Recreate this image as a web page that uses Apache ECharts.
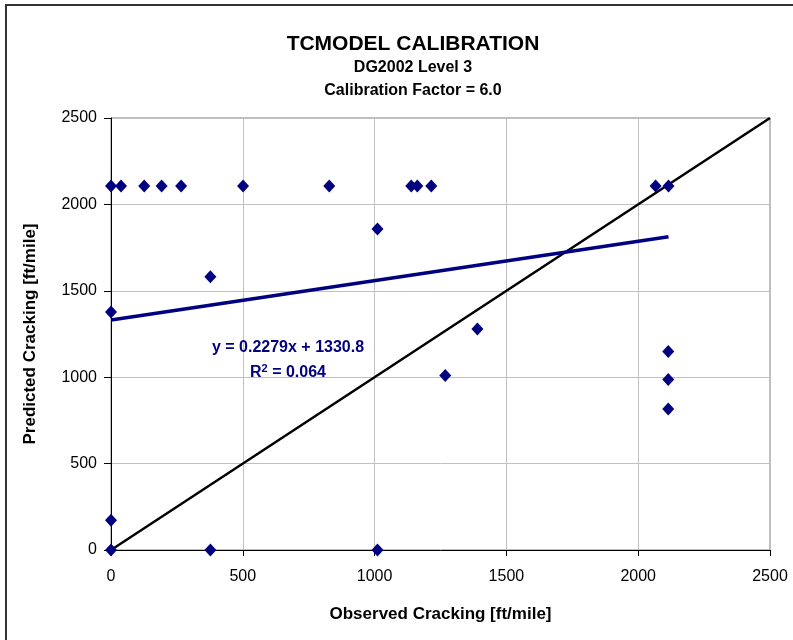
<!DOCTYPE html>
<html><head><meta charset="utf-8">
<script src="https://cdn.jsdelivr.net/npm/echarts@6/dist/echarts.min.js"></script>
<style>html,body{margin:0;padding:0;background:#fff}#c{width:793px;height:640px}</style>
</head><body><div id="c"></div>
<script>
// Observed vs predicted cracking [ft/mile]
const observed  = [0, 38, 126, 192, 266, 501, 828, 1139, 1162, 1215, 2066, 2115, 1011, 377, 0, 0, 0, 377, 1011, 1390, 1268, 2114, 2114, 2114];
const predicted = [2107, 2107, 2107, 2107, 2107, 2107, 2107, 2107, 2107, 2107, 2107, 2107, 1857, 1581, 1377, 172, 0, 0, 0, 1279, 1010, 1149, 987, 816];
// Linear trend
const slope = 0.2279, intercept = 1330.8, r2 = 0.064;
// Line of equality
const equality = [[0, 0], [2500, 2500]];
const axisTicks = [0, 500, 1000, 1500, 2000, 2500];

const pts = observed.map((x, i) => [x, predicted[i]]);
const xMin = Math.min(...observed), xMax = Math.max(...observed);
const trend = [[xMin, slope * xMin + intercept], [xMax, slope * xMax + intercept]];

const chart = echarts.init(document.getElementById('c'), null, {renderer: 'canvas'});
const font = '"Liberation Sans", Arial, sans-serif';
chart.setOption({
  animation: false,
  title: [
    {text: 'TCMODEL CALIBRATION', left: 408, top: 29, textAlign: 'center',
     textStyle: {fontFamily: font, fontSize: 21, fontWeight: 'bold', color: '#000'}},
    {text: 'DG2002 Level 3', left: 408, top: 55, textAlign: 'center',
     textStyle: {fontFamily: font, fontSize: 16, fontWeight: 'bold', color: '#000'}},
    {text: 'Calibration Factor = 6.0', left: 408, top: 78, textAlign: 'center',
     textStyle: {fontFamily: font, fontSize: 16, fontWeight: 'bold', color: '#000'}}
  ],
  grid: {left: 111, right: 23, top: 118, bottom: 90, containLabel: false,
         show: true, borderColor: '#808080', borderWidth: 1},
  xAxis: {
    type: 'value', min: axisTicks[0], max: axisTicks[axisTicks.length - 1], interval: 500,
    name: 'Observed Cracking [ft/mile]', nameLocation: 'middle', nameGap: 56,
    nameTextStyle: {fontFamily: font, fontSize: 17, fontWeight: 'bold', color: '#000'},
    axisLine: {show: true, onZero: false, lineStyle: {color: '#000', width: 1}},
    axisTick: {show: true, inside: false, length: 6, lineStyle: {color: '#000'}},
    axisLabel: {fontFamily: font, fontSize: 16, color: '#000', margin: 19,
      formatter: v => String(v)},
    splitLine: {show: true, lineStyle: {color: '#c0c0c0', width: 1}}
  },
  yAxis: {
    type: 'value', min: axisTicks[0], max: axisTicks[axisTicks.length - 1], interval: 500,
    name: 'Predicted Cracking [ft/mile]', nameLocation: 'middle', nameGap: 72,
    nameTextStyle: {fontFamily: font, fontSize: 17, fontWeight: 'bold', color: '#000'},
    axisLine: {show: true, onZero: false, lineStyle: {color: '#000', width: 1}},
    axisTick: {show: true, inside: false, length: 7, lineStyle: {color: '#000'}},
    axisLabel: {fontFamily: font, fontSize: 16, color: '#000', margin: 14,
      formatter: v => String(v)},
    splitLine: {show: true, lineStyle: {color: '#c0c0c0', width: 1}}
  },
  series: [
    {type: 'line', data: equality, symbol: 'none', lineStyle: {color: '#000', width: 2.5}, z: 2},
    {type: 'line', data: trend, symbol: 'none', lineStyle: {color: '#000080', width: 3.5}, z: 3},
    {type: 'scatter', data: pts, symbol: 'diamond', symbolSize: [12, 13],
     itemStyle: {color: '#000080', opacity: 1}, z: 4}
  ],
  graphic: [
    {type: 'rect', shape: {x: 6, y: 5, width: 800, height: 650},
     style: {fill: 'none', stroke: '#333', lineWidth: 2}, silent: true},
    {type: 'text', z: 10, position: [288, 348], style: {text: 'y = 0.2279x + 1330.8', x: 0, y: 0,
      textAlign: 'center', textVerticalAlign: 'middle', fill: '#000080',
      font: 'bold 16px ' + font}},
    {type: 'text', z: 10, position: [288, 372], style: {
      text: '{a|R}{s|2}{a| = ' + r2.toFixed(3) + '}', x: 0, y: 0,
      textAlign: 'center', textVerticalAlign: 'middle',
      rich: {a: {fill: '#000080', font: 'bold 16px ' + font, verticalAlign: 'bottom'},
             s: {fill: '#000080', font: 'bold 11px ' + font, verticalAlign: 'top', padding: [0, 0, 7, 0]}}}}
  ]
});
</script>
</body></html>
